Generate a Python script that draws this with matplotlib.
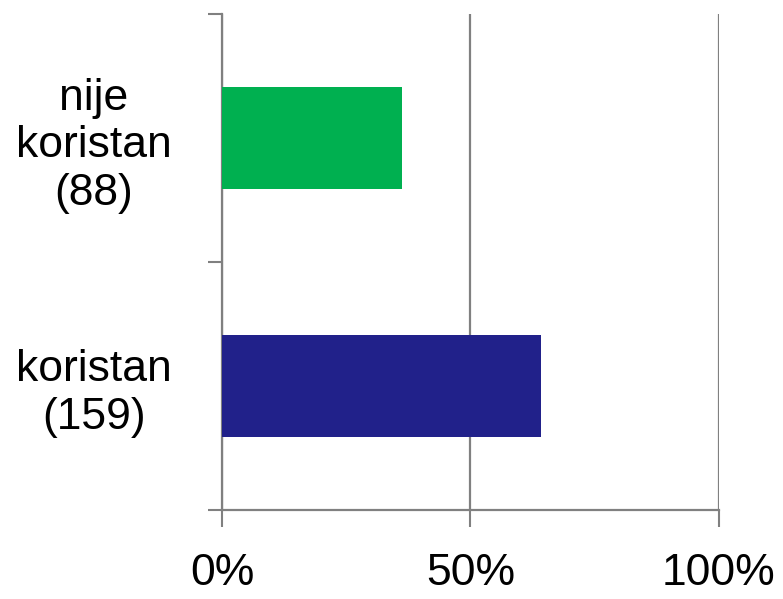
import matplotlib

matplotlib.use("Agg")
import matplotlib.pyplot as plt
from matplotlib.ticker import FixedLocator, FixedFormatter

plt.rcParams["font.family"] = ["Liberation Sans", "DejaVu Sans"]

# Data (share of answers, %)
categories = ["koristan\n(159)", "nije\nkoristan\n(88)"]
shares = [64.3, 36.3]
bar_colors = ["#21218A", "#00B050"]
x_ticks = [0, 50, 100]
x_tick_labels = ["0%", "50%", "100%"]

fig = plt.figure(figsize=(7.83, 5.99), dpi=100)
ax = fig.add_axes([0.2835, 0.1486, 0.6345, 0.828])

y_pos = list(range(len(categories)))
ax.barh(y_pos, shares, height=0.41, color=bar_colors, zorder=3)

ax.set_xlim(0, 100)
ax.set_ylim(-0.5, len(categories) - 0.5)

# x axis
ax.set_xticks(x_ticks)
ax.set_xticklabels(x_tick_labels)
ax.tick_params(axis="x", direction="out", length=12, width=1.5, color="#808080",
               labelsize=32, pad=19)
ax.grid(axis="x", color="#808080", linewidth=1.6, zorder=1)

# y axis: ticks on category borders, labels in the middle
ax.yaxis.set_major_locator(FixedLocator([-0.5, 0.5, 1.5]))
ax.yaxis.set_major_formatter(FixedFormatter(["", "", ""]))
ax.yaxis.set_minor_locator(FixedLocator(y_pos))
ax.yaxis.set_minor_formatter(FixedFormatter(categories))
ax.tick_params(axis="y", which="major", direction="out", length=10, width=1.5,
               color="#808080")
ax.tick_params(axis="y", which="minor", length=0, labelsize=32, pad=36)
for lbl in ax.get_yticklabels(minor=True):
    lbl.set_multialignment("center")

for side in ["top", "right"]:
    ax.spines[side].set_visible(False)
for side in ["left", "bottom"]:
    ax.spines[side].set_color("#808080")
    ax.spines[side].set_linewidth(1.6)

fig.savefig("out.png", dpi=100)
